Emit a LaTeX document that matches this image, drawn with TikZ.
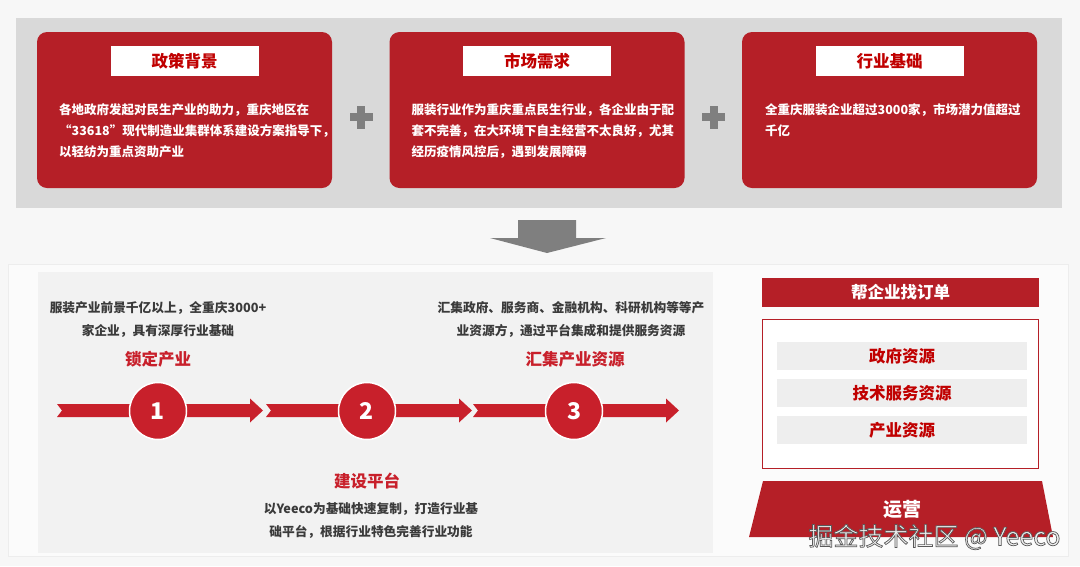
\documentclass[tikz,border=0pt]{standalone}
\usepackage{fontspec}
\setmainfont{Noto Sans CJK SC}
\usetikzlibrary{positioning}

\definecolor{cardred}{HTML}{B51F27}
\definecolor{stepred}{HTML}{C8202B}
\definecolor{titlered}{HTML}{C00000}
\definecolor{panelgray}{HTML}{D9D9D9}
\definecolor{pagebg}{HTML}{F7F7F7}
\definecolor{lightpanel}{HTML}{F2F2F2}
\definecolor{rowgray}{HTML}{EEEEEE}
\definecolor{signgray}{HTML}{7F7F7F}
\definecolor{notegray}{HTML}{3A3A3A}

\tikzset{
  card/.style={fill=cardred, rounded corners=10pt, minimum width=295pt, minimum height=156pt},
  cardtitle/.style={fill=white, minimum width=148pt, minimum height=30pt, inner sep=0pt,
    text=titlered, font=\fontsize{16.5}{18}\selectfont\bfseries},
  cardbody/.style={anchor=north west, inner sep=0pt, align=left, text=white,
    font=\fontsize{12.5}{21}\selectfont\bfseries},
  stepcircle/.style={circle, fill=stepred, draw=white, line width=1.5pt, minimum size=57pt,
    inner sep=0pt, text=white, font=\fontsize{23}{23}\selectfont\bfseries},
  steptitle/.style={text=stepred, inner sep=0pt, font=\fontsize{16.5}{18}\selectfont\bfseries},
  stepnote/.style={text=notegray, inner sep=0pt, align=center,
    font=\fontsize{12.7}{23}\selectfont\bfseries},
  resrow/.style={fill=rowgray, minimum width=250pt, minimum height=28pt, inner sep=0pt,
    text=titlered, font=\fontsize{16.5}{18}\selectfont\bfseries}
}

\begin{document}
\begin{tikzpicture}[x=1pt, y=-1pt]
  \useasboundingbox (0,0) rectangle (1080,566);
  \fill[pagebg] (0,0) rectangle (1080,566);

  % top: three reasons
  \fill[panelgray] (16,18) rectangle (1062,208);
  \node[card] (policy) at (184.5,110) {};
  \node[card] (market) at (537,110) {};
  \node[card] (industry) at (889.5,110) {};
  \node[cardtitle, below=14pt of policy.north] (policytitle) {政策背景};
  \node[cardtitle, below=14pt of market.north] (markettitle) {市场需求};
  \node[cardtitle, below=14pt of industry.north] (industrytitle) {行业基础};
  \node[cardbody] (policytext) at (59,103)
    {各地政府发起对民生产业的助力，重庆地区在\\“33618”现代制造业集群体系建设方案指导下，\\以轻纺为重点资助产业};
  \node[cardbody] (markettext) at (411.5,103)
    {服装行业作为重庆重点民生行业，各企业由于配\\套不完善，在大环境下自主经营不太良好，尤其\\经历疫情风控后，遇到发展障碍};
  \node[cardbody] (industrytext) at (765,103)
    {全重庆服装企业超过3000家，市场潜力值超过\\千亿};
  % plus signs
  \foreach \x in {361,713.5} {
    \fill[signgray] ({\x-11.5},113) rectangle ({\x+11.5},121);
    \fill[signgray] ({\x-4},105.5) rectangle ({\x+4},128.5);
  }

  % down arrow
  \fill[signgray] (518,220) -- (576,220) -- (576,238) -- (606,238) -- (547,253)
    -- (490,238) -- (518,238) -- cycle;

  % bottom: steps
  \draw[black!7, fill=white!50!pagebg] (8,264) rectangle (1068,556);
  \fill[lightpanel] (38,272) rectangle (713,553);
  \foreach \x in {57,266,473} {
    \fill[stepred] (\x,404) -- ({\x+193},404) -- ({\x+193},398.5) -- ({\x+206},410.5)
      -- ({\x+193},422.5) -- ({\x+193},417) -- (\x,417) -- ({\x+5},410.5) -- cycle;
  }
  \node[stepcircle] (s1) at (158,411) {1};
  \node[stepcircle] (s2) at (367,411) {2};
  \node[stepcircle] (s3) at (574,411) {3};
  \node[steptitle] (s1title) at (158,359.5) {锁定产业};
  \node[steptitle] (s2title) at (367,481.5) {建设平台};
  \node[steptitle] (s3title) at (575,359.5) {汇集产业资源};
  \node[stepnote] (s1note) at (158,319) {服装产业前景千亿以上，全重庆3000+\\家企业，具有深厚行业基础};
  \node[stepnote] (s2note) at (371,521) {以Yeeco为基础快速复制，打造行业基\\础平台，根据行业特色完善行业功能};
  \node[stepnote] (s3note) at (571,319) {汇集政府、服务商、金融机构、科研机构等等产\\业资源方，通过平台集成和提供服务资源};

  % right: resources
  \node[fill=cardred, minimum width=277pt, minimum height=29pt, inner sep=0pt, text=white,
    font=\fontsize{16.5}{18}\selectfont\bfseries] (orders) at (900.5,292) {帮企业找订单};
  \node[draw=cardred, fill=white, minimum width=276pt, minimum height=149pt] (resbox) at (900,393.5) {};
  \node[resrow] (gov) at (902,356) {政府资源};
  \node[resrow] (tech) at (902,393) {技术服务资源};
  \node[resrow] (indres) at (902,430) {产业资源};
  \fill[cardred] (763,481) -- (1042,481) -- (1053,537) -- (749,537) -- cycle;
  \node[text=white, font=\fontsize{19}{20}\selectfont\bfseries] (ops) at (902,509.5) {运营};
  \node[text=black!6, font=\fontsize{25}{27}\selectfont] (mark) at (934.5,537)
    {\special{pdf:literal direct 2 Tr 0.7 w 0.35 G}掘金技术社区 @ Yeeco\special{pdf:literal direct 0 Tr}};
\end{tikzpicture}
\end{document}
